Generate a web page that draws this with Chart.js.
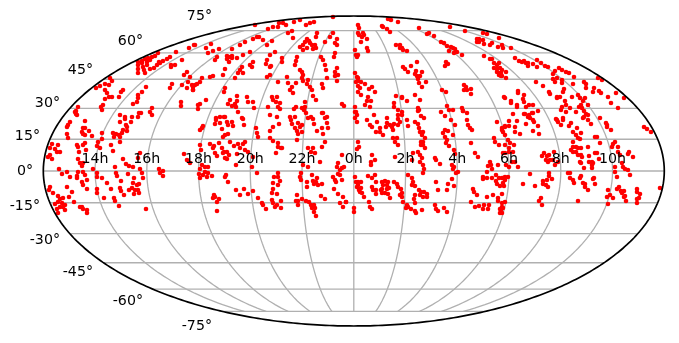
<!DOCTYPE html>
<html><head><meta charset="utf-8">
<style>html,body{margin:0;padding:0;background:#fff}canvas{display:block}</style>
<script src="https://cdn.jsdelivr.net/npm/chart.js@4"></script></head>
<body><canvas id="c" width="679" height="343"></canvas>
<script>
const hourLabels=["14h","16h","18h","20h","22h","0h","2h","4h","6h","8h","10h"];
const hourLongitudes=[-150,-120,-90,-60,-30,0,30,60,90,120,150];
const latLabels=["75°","60°","45°","30°","15°","0°","-15°","-30°","-45°","-60°","-75°"];
const latitudes=[75,60,45,30,15,0,-15,-30,-45,-60,-75];
const latLabelX=[212,143,93,60,40,33,40,60,93,143,212];
const latLabelY=[16,41,70,103,136,171,206,240,272,301,326];
const pointsA=[[194,45],[189,48],[176,52],[182,60],[175,65],[171,65],[171,67],[158,53],[155,56],[152,57],[148,58],[145,59],[142,61],[138,62],[150,60],[147,62],[142,63],[138,65],[143,67],[147,65],[138,69],[144,70],[138,73],[145,73],[150,69],[154,68],[157,65],[160,63],[163,61],[167,59],[170,57],[159,62],[187,72],[184,75],[190,77],[188,82],[182,85],[172,84],[170,88],[187,88],[192,85],[195,85],[193,90],[197,84],[110,78],[112,81],[105,84],[109,85],[100,86],[96,88],[105,90],[107,93],[109,97],[112,97],[105,99],[103,105],[101,107],[102,110],[123,90],[121,92],[119,97],[146,87],[142,92],[138,95],[138,98],[137,102],[133,104],[78,107],[75,112],[77,115],[120,115],[125,117],[132,117],[141,113],[138,117],[152,108],[150,112],[152,115],[181,102],[181,106],[198,105],[198,109]];
const pointsB=[[76,111],[76,114],[85,121],[70,122],[68,125],[67,127],[67,134],[68,138],[83,128],[85,128],[82,132],[85,135],[83,134],[89,131],[92,136],[102,133],[98,142],[97,146],[102,139],[100,148],[120,122],[125,119],[131,122],[139,113],[126,125],[127,127],[127,131],[123,130],[122,133],[119,135],[116,134],[113,133],[114,137],[120,137],[120,142],[52,144],[50,148],[55,149],[58,145],[57,152],[60,152],[50,155],[52,159],[48,157],[77,145],[78,147],[83,145],[85,143],[79,152],[86,150],[111,145],[113,151],[140,153],[138,158],[123,159],[78,159],[80,163],[82,166],[83,163],[93,169],[115,167],[126,164],[129,166],[133,167],[140,169],[142,173],[143,178],[159,169],[163,171],[160,173],[163,176],[184,154],[187,160],[190,163],[59,169],[62,174],[67,172],[70,177],[78,172],[77,176],[83,172],[85,175],[77,178],[82,182],[87,180],[83,185],[87,189],[97,173],[97,177],[102,178],[116,173],[117,176],[128,174],[121,181],[107,183],[111,189],[134,178],[133,183],[137,185],[139,184],[132,188],[135,190],[138,190],[129,190],[120,188],[121,191],[124,195],[134,194],[139,193],[67,187],[50,187],[49,190],[53,193],[72,192],[69,197],[97,189],[97,193],[104,198],[114,198],[115,201],[74,202],[58,196],[60,199],[63,198],[58,202],[62,203],[65,205],[55,204],[60,207],[63,207],[57,209],[65,210],[58,213],[80,207],[83,209],[82,207],[87,210],[87,213],[119,206],[146,209]];
const pointsC=[[333,17],[314,22],[310,23],[306,25],[300,20],[294,22],[286,25],[283,23],[279,23],[278,27],[273,27],[268,29],[255,25],[292,31],[288,33],[293,38],[317,33],[316,37],[333,33],[330,37],[337,39],[335,43],[337,45],[325,42],[259,37],[253,39],[257,37],[263,40],[267,45],[272,41],[245,42],[240,45],[232,49],[211,44],[206,48],[219,49],[213,51],[208,53],[217,57],[215,60],[195,45],[227,56],[229,57],[232,56],[227,59],[229,62],[232,58],[237,58],[243,55],[250,52],[307,39],[309,41],[305,42],[310,43],[303,45],[300,47],[303,50],[307,48],[312,45],[315,45],[313,49],[316,48],[270,55],[275,52],[267,60],[266,64],[271,66],[282,58],[282,62],[297,57],[296,61],[295,65],[321,57],[323,60],[325,65],[326,70],[335,53],[334,57],[253,62],[250,65],[252,67],[242,67],[240,70],[238,73],[235,78],[243,73],[225,69],[223,75],[213,76],[210,77],[202,78],[200,82],[193,87],[193,90],[225,88],[224,92],[270,67],[270,75],[267,77],[300,70],[302,72],[303,75],[302,78],[308,80],[303,81],[307,84],[310,87],[287,77],[288,83],[292,87],[290,90],[293,93],[278,82],[296,83],[337,68],[335,72],[338,75],[335,76],[327,78],[337,81],[322,84],[323,88],[312,90],[313,96],[316,100],[305,102],[305,107],[296,107],[294,109],[302,108],[342,104],[344,106],[322,113],[206,100],[200,104],[237,96],[230,100],[228,104],[235,104],[237,101],[232,106],[236,107],[247,97],[248,102],[253,102],[254,108],[272,97],[273,100],[277,97],[276,102],[280,103],[278,107],[280,109],[268,107],[225,117],[220,117],[216,118],[277,117],[295,117],[311,117],[327,117],[242,118]];
const pointsD=[[238,112],[224,117],[216,120],[215,124],[220,123],[227,122],[232,122],[233,126],[228,125],[222,129],[225,135],[228,134],[223,137],[230,142],[243,119],[244,125],[203,126],[202,128],[200,130],[270,115],[279,124],[273,127],[270,131],[256,128],[257,133],[258,137],[270,138],[273,141],[278,143],[278,147],[281,148],[276,153],[282,148],[290,117],[291,120],[298,123],[292,124],[295,128],[297,131],[300,127],[302,132],[298,134],[297,140],[302,125],[308,118],[313,119],[314,124],[317,131],[323,113],[325,118],[327,123],[328,128],[322,128],[323,134],[325,142],[322,147],[306,113],[304,110],[210,144],[214,146],[213,148],[219,143],[222,148],[224,152],[223,153],[227,152],[215,153],[217,156],[225,158],[227,159],[234,146],[238,144],[243,144],[245,142],[240,148],[245,150],[248,152],[229,155],[237,154],[236,165],[253,157],[252,167],[257,173],[200,145],[201,150],[202,165],[205,167],[208,167],[200,169],[205,172],[208,173],[203,175],[199,174],[200,178],[207,177],[212,176],[225,177],[226,175],[228,182],[214,195],[215,197],[213,198],[219,199],[217,202],[217,211],[236,190],[244,189],[240,195],[248,194],[253,191],[258,198],[262,203],[263,205],[266,209],[278,173],[278,177],[274,177],[280,181],[273,183],[278,185],[273,189],[272,193],[277,194],[272,200],[273,203],[281,201],[277,205],[275,207],[281,208],[303,165],[308,167],[301,173],[300,177],[301,180],[312,175],[307,182],[307,187],[313,181],[317,178],[316,182],[318,185],[322,184],[314,184],[321,196],[325,199],[297,195],[296,201],[298,201],[302,199],[298,205],[306,201],[309,202],[311,205],[314,205],[312,208],[315,208],[314,212],[316,216],[313,148],[308,148],[311,152],[315,153],[320,162],[342,155],[338,163],[337,167],[342,168],[344,167],[340,170],[338,174],[333,177],[335,180],[336,182],[340,175],[342,180],[334,189],[338,194],[343,197],[346,202],[340,203],[343,207]];
const pointsE=[[388,19],[391,20],[398,22],[358,25],[359,28],[382,26],[383,27],[387,29],[390,32],[419,28],[450,27],[465,31],[358,33],[359,35],[363,33],[362,37],[364,35],[367,39],[361,42],[429,33],[427,34],[434,36],[483,33],[487,34],[477,39],[479,39],[477,42],[479,42],[483,40],[484,44],[492,43],[490,45],[499,38],[502,45],[498,47],[441,42],[444,43],[447,46],[451,47],[453,48],[455,49],[449,51],[457,52],[462,55],[454,53],[396,45],[400,45],[402,48],[400,48],[403,50],[407,51],[367,48],[368,51],[355,50],[356,55],[358,55],[357,57],[484,56],[490,59],[492,59],[494,63],[497,65],[499,63],[494,68],[497,69],[500,68],[497,72],[500,73],[502,76],[499,75],[446,62],[448,64],[445,66],[417,62],[411,66],[403,67],[405,69],[408,72],[416,71],[415,74],[422,72],[420,76],[417,76],[419,83],[422,87],[426,82],[418,79],[355,73],[357,77],[358,78],[356,82],[358,81],[361,82],[358,86],[360,88],[358,92],[365,84],[369,89],[372,87],[375,92],[361,95],[368,97],[371,101],[367,101],[365,105],[370,107],[396,96],[402,97],[407,101],[402,98],[415,95],[420,100],[394,103],[394,107],[398,110],[418,108],[419,110],[421,116],[442,90],[446,92],[464,85],[466,87],[464,90],[467,90],[471,89],[471,94],[447,106],[449,110],[453,110],[504,97],[462,108],[463,111],[355,107],[356,112]];
const pointsF=[[355,112],[357,115],[355,118],[357,122],[367,120],[370,125],[372,127],[374,115],[377,122],[376,132],[380,128],[380,132],[383,135],[387,118],[387,123],[386,127],[390,125],[394,124],[392,127],[393,130],[398,125],[400,122],[398,115],[398,119],[402,112],[402,115],[407,120],[408,126],[415,122],[418,124],[419,128],[420,132],[423,132],[422,135],[425,138],[424,118],[418,111],[393,138],[397,138],[395,142],[398,145],[421,142],[423,142],[421,145],[423,145],[425,148],[418,152],[420,155],[422,158],[420,162],[423,165],[424,169],[423,173],[413,153],[412,160],[395,157],[358,142],[359,147],[357,149],[372,155],[371,162],[375,160],[371,165],[441,112],[445,116],[451,120],[455,125],[463,111],[467,113],[467,120],[468,125],[470,128],[472,130],[445,130],[448,131],[443,133],[445,137],[447,140],[446,143],[449,146],[453,135],[454,150],[455,154],[471,143],[475,153],[478,157],[435,158],[436,160],[440,164],[452,165],[454,167],[453,169],[458,172],[456,173],[497,122],[505,126],[502,130],[494,138],[495,142],[499,145],[490,162],[488,166],[491,165],[487,172],[492,169],[498,165],[368,176],[372,178],[375,175],[376,182],[355,177],[356,182],[358,182],[358,185],[361,182],[357,187],[359,190],[361,188],[362,193],[364,197],[360,192],[369,202],[370,207],[372,209],[372,187],[373,190],[376,190],[376,194],[381,190],[382,182],[385,181],[388,182],[383,185],[387,185],[382,189],[387,189],[389,188],[382,193],[385,193],[388,194],[390,198],[394,182],[397,184],[398,187],[401,189],[402,193],[400,195],[402,197],[403,202],[408,175],[412,178],[413,182],[412,185],[415,186],[419,190],[421,192],[424,192],[427,194],[420,195],[423,197],[427,197],[415,195],[414,199],[415,203],[407,205],[408,207],[406,208],[411,209],[415,211],[416,213],[422,210],[435,205],[436,209],[438,211],[444,208],[447,212],[436,182],[438,190],[448,184],[447,190],[452,179],[454,186],[354,208],[354,212],[346,202],[471,202],[475,207],[479,206],[483,209],[484,205],[489,205],[488,209],[487,197],[473,189],[474,192],[477,195],[483,177],[483,179],[487,178],[492,178],[496,175],[496,181],[497,184],[499,178],[503,178],[500,186],[504,186],[493,195],[498,198],[498,201],[502,203],[500,209],[503,208],[502,213]];
const pointsG=[[503,48],[511,48],[515,58],[519,61],[522,62],[524,61],[526,63],[528,63],[528,66],[533,64],[537,60],[541,63],[537,67],[545,66],[548,67],[555,71],[559,68],[562,70],[566,72],[569,73],[574,77],[553,74],[557,78],[553,79],[555,82],[562,80],[562,83],[573,84],[536,82],[543,86],[549,92],[550,94],[564,89],[563,92],[557,97],[560,97],[557,98],[565,101],[572,97],[566,105],[562,107],[561,110],[566,112],[570,108],[576,112],[578,95],[580,98],[585,98],[581,105],[579,107],[583,101],[582,108],[584,111],[588,105],[588,115],[583,118],[584,82],[586,84],[586,88],[598,78],[602,80],[594,88],[593,92],[599,91],[601,93],[608,97],[611,103],[616,93],[624,98],[618,108],[600,118],[518,91],[518,93],[524,95],[523,99],[524,102],[505,98],[511,101],[511,103],[517,105],[517,107],[526,107],[529,105],[533,105],[538,111],[533,113],[529,115],[528,117],[524,114],[513,114],[502,70],[501,73],[506,72],[506,78],[501,76],[556,119],[563,118]];
const pointsH=[[525,114],[532,113],[530,118],[533,120],[534,122],[538,126],[526,124],[517,121],[509,121],[509,126],[505,127],[515,127],[515,132],[520,134],[533,131],[539,134],[502,128],[503,132],[505,135],[508,140],[510,143],[514,145],[505,145],[509,148],[513,152],[509,152],[505,153],[503,153],[512,162],[506,165],[515,162],[518,167],[509,167],[544,153],[542,156],[547,156],[549,155],[546,160],[548,162],[550,160],[553,160],[554,152],[555,165],[558,162],[530,174],[523,184],[535,186],[549,173],[549,176],[552,179],[543,181],[547,180],[543,184],[546,185],[548,187],[541,198],[539,201],[542,205],[578,201],[505,177],[508,177],[505,180],[502,178],[503,183],[502,194],[505,202],[502,207],[501,210],[500,213],[557,120],[558,122],[563,120],[561,125],[571,123],[569,126],[577,128],[573,132],[576,135],[581,133],[580,139],[578,138],[586,114],[584,117],[588,120],[591,124],[595,137],[597,137],[600,143],[606,123],[607,125],[607,127],[611,130],[573,142],[571,150],[573,147],[576,147],[578,148],[573,152],[576,152],[581,148],[581,155],[578,155],[582,157],[580,162],[581,163],[588,147],[589,156],[589,162],[592,162],[592,165],[593,163],[595,153],[597,153],[599,159],[584,168],[592,168],[615,142],[613,144],[612,147],[618,147],[618,152],[620,155],[629,152],[628,154],[633,157],[622,163],[623,167],[615,167],[615,172],[617,177],[625,169],[628,170],[630,175],[644,127],[647,129],[651,132],[568,173],[570,173],[570,178],[573,180],[574,183],[581,176],[580,178],[583,183],[585,184],[585,187],[588,190],[594,178],[593,179],[595,184],[608,190],[610,195],[607,197],[613,198],[619,187],[617,189],[621,191],[624,191],[622,193],[625,196],[624,197],[626,201],[608,204],[637,189],[637,192],[640,194],[637,199],[639,198],[637,203],[660,188]];

const allPoints=[pointsA,pointsB,pointsC,pointsD,pointsE,pointsF,pointsG,pointsH].flat().map(p=>({x:p[0],y:p[1]}));

// Mollweide projection onto the plot plane
const cx=353.8,cy=171,ax=310.5,ay=155;
function project(lon,lat){
  const phi=lat*Math.PI/180;let t=phi;
  for(let i=0;i<50;i++){t-=(2*t+Math.sin(2*t)-Math.PI*Math.sin(phi))/(2+2*Math.cos(2*t));}
  return {x:cx+ax*(lon/180)*Math.cos(t),y:cy-ay*Math.sin(t)};
}
const ds=[];
const gridStyle={borderColor:'#b0b0b0',borderWidth:1.3,pointRadius:0,showLine:true,fill:false,tension:0.01,clip:false,order:3};
const sweep=n=>Array.from({length:n+1},(_,i)=>i/n);
latitudes.forEach(lat=>{ds.push({...gridStyle,data:sweep(60).map(f=>project(-180+360*f,lat))});});
hourLongitudes.forEach(lon=>{ds.push({...gridStyle,data:sweep(60).map(f=>project(lon,-75+150*f))});});
ds.push({data:allPoints,backgroundColor:'#ff0000',borderWidth:0,pointRadius:2.3,pointHoverRadius:2.3,showLine:false,clip:false,order:2});
ds.push({borderColor:'#000',borderWidth:1.7,pointRadius:0,showLine:true,fill:false,tension:0.01,clip:false,order:1,
  data:sweep(240).map(f=>{const a=2*Math.PI*f;return {x:cx+ax*Math.cos(a),y:cy+ay*Math.sin(a)};})});

const labelPlugin={id:'labels',afterDatasetsDraw(chart){
  const c=chart.ctx,sx=chart.scales.x,sy=chart.scales.y;
  c.save();c.fillStyle='#000';c.font='14.2px "DejaVu Sans"';c.textBaseline='middle';
  c.textAlign='center';
  hourLabels.forEach((t,i)=>c.fillText(t,sx.getPixelForValue(cx+ax*hourLongitudes[i]/180),sy.getPixelForValue(159.5)));
  c.textAlign='right';
  latLabels.forEach((t,i)=>c.fillText(t,sx.getPixelForValue(latLabelX[i]),sy.getPixelForValue(latLabelY[i])));
  c.restore();
}};
new Chart(document.getElementById('c'),{type:'scatter',data:{datasets:ds},plugins:[labelPlugin],
 options:{responsive:false,animation:false,devicePixelRatio:1,layout:{padding:0,autoPadding:false},
  plugins:{legend:{display:false},tooltip:{enabled:false}},events:[],
  scales:{x:{type:'linear',display:false,min:0,max:679},y:{type:'linear',display:false,min:0,max:343,reverse:true}}}});
</script></body></html>
